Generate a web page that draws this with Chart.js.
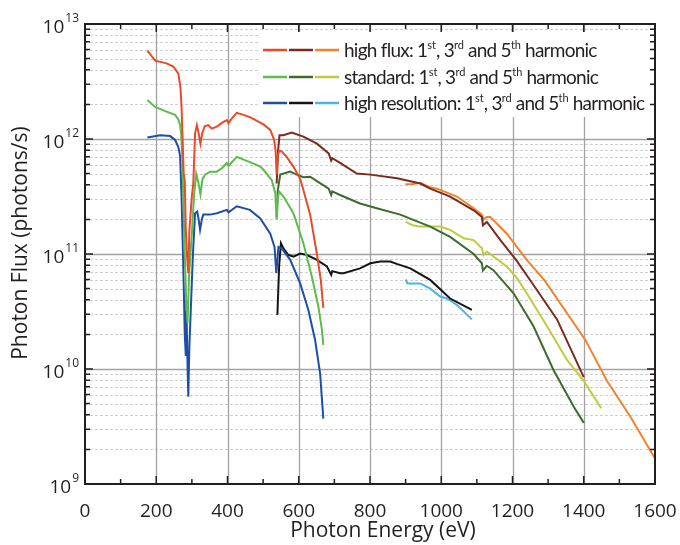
<!DOCTYPE html>
<html>
<head>
<meta charset="utf-8">
<script src="https://cdn.jsdelivr.net/npm/chart.js@4.4.1/dist/chart.umd.min.js"></script>
<style>
  html, body { margin: 0; padding: 0; background: #fff; }
</style>
</head>
<body>
<canvas id="fluxChart" width="680" height="545"></canvas>
<script>
// photon energy (eV) / flux (photons/s)
const hf1E = [175,197,229,248,262,268,271,274,277,280,283,286,290,293,300,304,309,314,319,324,329,336,346,356,370,384,398,403,410,426,445,463,501,520,531,535,538,541,545,552,566,585,604,613,632,651,662,669];
const hf1F = [5.86e12,4.8e12,4.55e12,4.27e12,3.7e12,2.8e12,1.9e12,1.0e12,5.0e11,4.3e11,1.6e11,1.0e11,6.8e10,1.6e11,3.2e11,4.1e11,1.12e12,1.32e12,1.12e12,9.1e11,1.12e12,1.29e12,1.32e12,1.23e12,1.28e12,1.38e12,1.46e12,1.37e12,1.48e12,1.69e12,1.62e12,1.55e12,1.34e12,1.2e12,9.8e11,7.9e11,4.9e11,7.1e11,7.9e11,7.8e11,7.0e11,5.75e11,4.5e11,3.6e11,2.2e11,1.0e11,5.9e10,3.4e10];

const hf3E = [538,542,546,557,580,613,651,684,691,694,716,763,801,876,941,969,1025,1091,1114,1117,1128,1166,1210,1255,1325,1400];
const hf3F = [4.1e11,7.9e11,1.08e12,1.08e12,1.14e12,1.05e12,9.1e11,7.5e11,6.5e11,6.8e11,6.2e11,5.0e11,4.9e11,4.55e11,4.1e11,3.7e11,3.16e11,2.4e11,2.1e11,1.78e11,1.9e11,1.32e11,8.9e10,5.6e10,2.7e10,8.5e9];

const hf5E = [899,920,941,969,988,1044,1091,1114,1119,1128,1138,1184,1240,1290,1404,1465,1531,1600];
const hf5F = [4.04e11,4.07e11,4.17e11,3.8e11,3.7e11,3.16e11,2.5e11,2.2e11,2.0e11,2.1e11,2.1e11,1.5e11,8.9e10,5.9e10,1.8e10,7.9e9,3.85e9,1.67e9];

const st1E = [175,197,229,253,262,267,270,273,276,280,284,288,292,296,300,306,312,318,324,330,337,351,370,385,398,403,426,463,492,501,524,534,538,542,545,557,585,613,637,655,665,669];
const st1F = [2.18e12,1.9e12,1.73e12,1.62e12,1.48e12,1.32e12,1.12e12,7.1e11,2.95e11,1.0e11,4.0e10,2.5e10,6.3e10,1.0e11,1.5e11,3.2e11,5.0e11,4.2e11,3.3e11,4.5e11,4.9e11,5.2e11,5.2e11,5.6e11,6.2e11,5.85e11,7.0e11,6.3e11,5.75e11,5.4e11,4.4e11,3.4e11,2.0e11,3.16e11,3.5e11,3.16e11,2.26e11,1.24e11,6.3e10,3.5e10,2.2e10,1.62e10];

const st3E = [538,541,548,576,594,613,632,651,684,691,694,716,772,819,885,969,1025,1091,1114,1117,1128,1147,1203,1259,1315,1372,1400];
const st3F = [2.1e11,3.55e11,4.9e11,5.2e11,4.9e11,4.65e11,4.7e11,4.3e11,3.7e11,3.26e11,3.5e11,3.26e11,2.75e11,2.5e11,2.2e11,1.73e11,1.41e11,1.0e11,8.3e10,7.2e10,7.9e10,7.2e10,4.55e10,2.35e10,9.8e9,4.7e9,3.4e9];

const st5E = [900,920,941,997,1025,1063,1091,1114,1119,1128,1184,1213,1240,1297,1353,1400,1449];
const st5F = [1.9e11,1.78e11,1.73e11,1.73e11,1.62e11,1.37e11,1.32e11,1.12e11,9.8e10,1.05e11,7.8e10,6.15e10,4.55e10,2.35e10,1.2e10,7.9e9,4.55e9];

const hr1E = [175,211,239,253,262,267,271,275,278,280,283,285,288,290,293,298,303,309,315,319,323,328,332,351,370,398,403,426,463,492,520,532,537,543,552,576,604,627,646,660,669];
const hr1F = [1.03e12,1.08e12,1.06e12,9.8e11,8.5e11,7.1e11,3.16e11,1.0e11,4.0e10,2.0e10,1.3e10,3.2e10,1.0e10,5.75e9,1.58e10,4.0e10,1.0e11,2.26e11,2.34e11,2.0e11,1.62e11,2.0e11,2.2e11,2.2e11,2.26e11,2.42e11,2.3e11,2.6e11,2.42e11,2.04e11,1.5e11,1.15e11,6.8e10,1.15e11,1.12e11,8.9e10,5.55e10,3.26e10,1.78e10,9.1e9,3.7e9];

const hr3E = [540,545,550,557,571,585,604,623,651,679,691,694,716,726,772,801,829,857,875,913,969,1025,1086];
const hr3F = [2.95e10,7.9e10,1.24e11,1.12e11,9.8e10,9.5e10,1.01e11,9.8e10,8.9e10,7.8e10,6.6e10,7.1e10,6.8e10,6.8e10,7.5e10,8.3e10,8.6e10,8.6e10,8.2e10,7.5e10,5.95e10,4.1e10,3.26e10];

const hr5E = [900,905,941,969,997,1016,1044,1086];
const hr5F = [6.0e10,5.55e10,5.55e10,5.0e10,4.27e10,4.1e10,3.6e10,2.7e10];

const xTicks = [0,200,400,600,800,1000,1200,1400,1600];
const yTicks = [1e9,1e10,1e11,1e12,1e13];
const yTickExp = ['9','10','11','12','13'];

const legendNames = ['high flux', 'standard', 'high resolution'];

const colors = {
  hf: ['#e84b2a', '#7b2a1e', '#f2822e'],
  st: ['#5cbb4b', '#3d6b2e', '#bfcb3a'],
  hr: ['#1e4fa6', '#151515', '#4db3e6']
};

const ink = '#231f20';
const fontFam = '"Open Sans", "DejaVu Sans", sans-serif';
const legendFam = 'Lato, "Open Sans", sans-serif';

function pts(xs, ys) {
  return xs.map((e, i) => ({ x: e, y: ys[i] }));
}

function lineSet(label, xs, ys, color) {
  return {
    label: label,
    data: pts(xs, ys),
    borderColor: color,
    borderWidth: 2,
    pointRadius: 0,
    tension: 0,
    fill: false
  };
}

// text pieces with superscripts: [text, isSup]
function legendPieces(name) {
  return [[name + ': 1', false], ['st', true], [', 3', false], ['rd', true], [' and 5', false], ['th', true], [' harmonic', false]];
}

const decor = {
  id: 'decor',
  beforeDatasetsDraw(chart) {
    const { ctx, chartArea: a, scales: { x, y } } = chart;
    ctx.save();
    ctx.lineWidth = 1;
    // minor log grid
    ctx.strokeStyle = '#cfcfcf';
    ctx.setLineDash([3, 2]);
    yTicks.slice(0, -1).forEach(d => {
      for (let k = 2; k <= 9; k++) {
        const py = Math.round(y.getPixelForValue(k * d)) + 0.5;
        ctx.beginPath(); ctx.moveTo(a.left, py); ctx.lineTo(a.right, py); ctx.stroke();
      }
    });
    ctx.setLineDash([]);
    ctx.strokeStyle = '#a2a2a2';
    ctx.lineWidth = 1.3;
    xTicks.slice(1, -1).forEach(v => {
      const px = Math.round(x.getPixelForValue(v)) + 0.5;
      ctx.beginPath(); ctx.moveTo(px, a.top); ctx.lineTo(px, a.bottom); ctx.stroke();
    });
    yTicks.slice(1, -1).forEach(v => {
      const py = Math.round(y.getPixelForValue(v)) + 0.5;
      ctx.beginPath(); ctx.moveTo(a.left, py); ctx.lineTo(a.right, py); ctx.stroke();
    });
    // legend background
    ctx.fillStyle = '#fff';
    ctx.fillRect(258, 32, a.right - 258 - 2, 85);
    ctx.restore();
  },
  afterDraw(chart) {
    const { ctx, chartArea: a, scales: { x, y } } = chart;
    ctx.save();
    ctx.strokeStyle = ink;
    ctx.lineWidth = 2;
    ctx.strokeRect(a.left, a.top, a.right - a.left, a.bottom - a.top);

    // inward ticks, x
    ctx.lineWidth = 1.5;
    for (let v = 0; v <= 1600; v += 100) {
      const px = x.getPixelForValue(v);
      const len = v % 200 === 0 ? 8 : 5;
      ctx.beginPath();
      ctx.moveTo(px, a.bottom); ctx.lineTo(px, a.bottom - len);
      ctx.moveTo(px, a.top); ctx.lineTo(px, a.top + len);
      ctx.stroke();
    }
    // inward ticks, y
    yTicks.forEach((d, i) => {
      const py = y.getPixelForValue(d);
      ctx.beginPath();
      ctx.moveTo(a.left, py); ctx.lineTo(a.left + 8, py);
      ctx.moveTo(a.right, py); ctx.lineTo(a.right - 8, py);
      ctx.stroke();
      if (i < yTicks.length - 1) {
        for (let k = 2; k <= 9; k++) {
          const pm = y.getPixelForValue(k * d);
          ctx.beginPath();
          ctx.moveTo(a.left, pm); ctx.lineTo(a.left + 5, pm);
          ctx.moveTo(a.right, pm); ctx.lineTo(a.right - 5, pm);
          ctx.stroke();
        }
      }
    });

    // y tick labels 10^n
    ctx.fillStyle = ink;
    ctx.textBaseline = 'alphabetic';
    yTicks.forEach((d, i) => {
      const py = y.getPixelForValue(d);
      ctx.font = '12px ' + fontFam;
      ctx.textAlign = 'right';
      ctx.fillText(yTickExp[i], 79, py - 2);
      const ew = ctx.measureText(yTickExp[i]).width;
      ctx.font = '19px ' + fontFam;
      ctx.fillText('10', 79 - ew - 1, py + 9);
    });

    // axis titles
    ctx.font = '21px ' + fontFam;
    ctx.textAlign = 'center';
    ctx.textBaseline = 'middle';
    ctx.fillText('Photon Energy (eV)', 383, 531);
    ctx.save();
    ctx.translate(21, 243);
    ctx.rotate(-Math.PI / 2);
    ctx.fillText('Photon Flux (photons/s)', 0, 0);
    ctx.restore();

    // legend
    const groups = [colors.hf, colors.st, colors.hr];
    const rowY = [50, 77, 103];
    groups.forEach((cols, r) => {
      const yy = rowY[r];
      ctx.lineWidth = 2.5;
      cols.forEach((c, j) => {
        ctx.strokeStyle = c;
        ctx.beginPath();
        ctx.moveTo(263 + j * 26, yy); ctx.lineTo(287 + j * 26, yy);
        ctx.stroke();
      });
      let tx = 344;
      ctx.textAlign = 'left';
      ctx.textBaseline = 'alphabetic';
      ctx.fillStyle = ink;
      legendPieces(legendNames[r]).forEach(([t, sup]) => {
        ctx.font = (sup ? '11px ' : '19px ') + legendFam;
        ctx.letterSpacing = sup ? '0px' : '-0.75px';
        ctx.fillText(t, tx, sup ? yy - 1 : yy + 7);
        tx += ctx.measureText(t).width;
      });
      ctx.letterSpacing = '0px';
    });
    ctx.restore();
  }
};

const ctx = document.getElementById('fluxChart');

const fluxChart = new Chart(ctx, {
  type: 'line',
  data: {
    datasets: [
      lineSet('high flux 1st', hf1E, hf1F, colors.hf[0]),
      lineSet('high flux 3rd', hf3E, hf3F, colors.hf[1]),
      lineSet('high flux 5th', hf5E, hf5F, colors.hf[2]),
      lineSet('standard 1st', st1E, st1F, colors.st[0]),
      lineSet('standard 3rd', st3E, st3F, colors.st[1]),
      lineSet('standard 5th', st5E, st5F, colors.st[2]),
      lineSet('high resolution 1st', hr1E, hr1F, colors.hr[0]),
      lineSet('high resolution 3rd', hr3E, hr3F, colors.hr[1]),
      lineSet('high resolution 5th', hr5E, hr5F, colors.hr[2])
    ]
  },
  options: {
    responsive: false,
    animation: false,
    layout: { padding: { left: 0, right: 25, top: 24, bottom: 0 } },
    plugins: { legend: { display: false }, tooltip: { enabled: false } },
    scales: {
      x: {
        type: 'linear',
        min: 0,
        max: 1600,
        afterBuildTicks: s => { s.ticks = xTicks.map(v => ({ value: v })); },
        ticks: {
          color: ink,
          font: { family: fontFam, size: 19 },
          padding: 8,
          maxRotation: 0,
          callback: v => String(v)
        },
        grid: { display: false },
        border: { display: false },
        afterFit: s => { s.height = 61; s.paddingLeft = 0; s.paddingRight = 0; }
      },
      y: {
        type: 'logarithmic',
        min: 1e9,
        max: 1e13,
        ticks: { display: false },
        grid: { display: false },
        border: { display: false },
        afterFit: s => { s.width = 85; }
      }
    }
  },
  plugins: [decor]
});
</script>
</body>
</html>
